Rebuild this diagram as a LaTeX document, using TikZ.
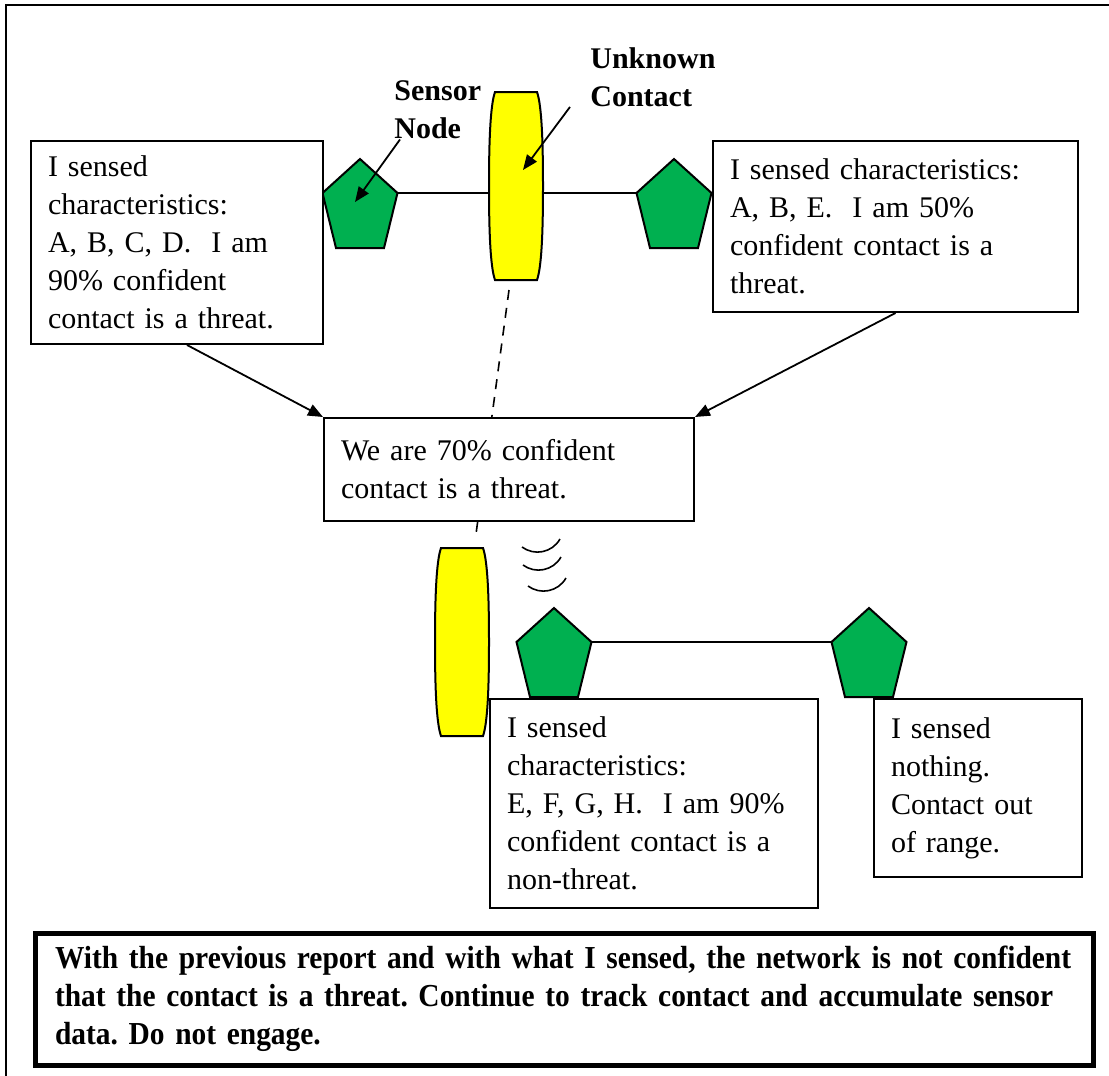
\documentclass[tikz,border=0pt]{standalone}
\usepackage{fontspec}
\setmainfont{Liberation Serif}
\newfontfamily\notefont[FakeStretch=0.92]{Liberation Serif}
\usetikzlibrary{arrows.meta}
\definecolor{sensorgreen}{RGB}{0,176,80}
\definecolor{contactyellow}{RGB}{255,255,0}
\tikzset{
  report/.style={draw, fill=white, line width=1pt, anchor=north west, align=left,
    inner xsep=8.5pt, inner ysep=0pt, font=\fontsize{15}{19}\selectfont},
  callout/.style={anchor=west, align=left, inner sep=0pt,
    font=\fontsize{15}{19}\selectfont\bfseries},
  pointer/.style={-{Triangle[length=7.5pt,width=6pt]}, line width=0.9pt},
  sensor/.pic={
    \draw[fill=sensorgreen, line width=1pt] (0,-34) -- (37.5,0) -- (24,55)
      -- (-24,55) -- (-37.5,0) -- cycle;},
  contact/.pic={
    \draw[fill=contactyellow, line width=1pt] (-21,-94) -- (21,-94)
      .. controls (26,-80) and (27,-40) .. (27,0)
      .. controls (27,40) and (26,80) .. (21,94) -- (-21,94)
      .. controls (-26,80) and (-27,40) .. (-27,0)
      .. controls (-27,-40) and (-26,-80) .. (-21,-94) -- cycle;}
}
\begin{document}
\begin{tikzpicture}[x=0.5pt,y=-0.5pt]
  \useasboundingbox (0,0) rectangle (1109,1076);
  \draw[line width=0.75pt] (6,1076) -- (6,5) -- (1109,5);

  % sensors and contacts
  \coordinate (sA) at (360,193);
  \coordinate (sB) at (674,193);
  \coordinate (sC) at (554,642);
  \coordinate (sD) at (869,642);
  \coordinate (cA) at (516,186);
  \coordinate (cB) at (462,642);
  \coordinate (cAfoot) at (509,290);
  \coordinate (cBhead) at (476,534);
  \coordinate (tipSensor) at (355,202);
  \coordinate (tipContact) at (523,170);

  \draw[line width=1pt] (sA) -- (sB);
  \draw[line width=1pt] (sC) -- (sD);
  \draw[line width=0.8pt, dash pattern=on 5pt off 4pt] (cAfoot) -- (cBhead);

  \pic at (sA) {sensor};
  \pic at (sB) {sensor};
  \pic at (sC) {sensor};
  \pic at (sD) {sensor};
  \pic at (cA) {contact};
  \pic at (cB) {contact};

  % reports
  \node[report, text width=129pt, minimum height=101.5pt] (boxL) at (30,140)
    {I sensed\\characteristics:\\A, B, C, D.\ \ I am\\90\% confident\\contact is a threat.};
  \node[report, text width=165.5pt, minimum height=85.5pt] (boxR) at (712,140)
    {I sensed characteristics:\\A, B, E.\ \ I am 50\%\\confident contact is a\\threat.};
  \node[report, text width=168pt, minimum height=51.5pt] (boxMid) at (323,417)
    {We are 70\% confident\\contact is a threat.};
  \node[report, text width=147pt, minimum height=104.5pt] (boxE) at (489,698)
    {I sensed\\characteristics:\\E, F, G, H.\ \ I am 90\%\\confident contact is a\\non-threat.};
  \node[report, text width=87pt, minimum height=89pt] (boxN) at (873,698)
    {I sensed\\nothing.\\Contact out\\of range.};

  \draw[pointer] ([xshift=5pt]boxL.south) -- (boxMid.north west);
  \draw[pointer] (boxR.south) -- (boxMid.north east);

  % labels
  \node[callout] (lblSensor) at (394,110) {Sensor\\Node};
  \node[callout] (lblContact) at (590,77) {Unknown\\Contact};
  \draw[pointer] ([xshift=3pt]lblSensor.south west) -- (tipSensor);
  \draw[pointer] ([xshift=-10pt]lblContact.south west) -- (tipContact);

  % pings
  \foreach \dx/\dy in {0/0, 1/18, 6/39}
    \draw[line width=0.8pt] (522+\dx,547+\dy) .. controls (534+\dx,556+\dy)
      and (552+\dx,553+\dy) .. (560+\dx,539+\dy);

  \node[draw, line width=2.5pt, anchor=north west, align=left, inner xsep=10pt,
    inner ysep=0pt, text width=509pt, minimum height=66pt,
    font=\notefont\bfseries\fontsize{16}{19}\selectfont\frenchspacing] (note) at (32.5,930.5)
    {With the previous report and with what I sensed, the network is not confident\\
     that the contact is a threat. Continue to track contact and accumulate sensor\\
     data. Do not engage.};
\end{tikzpicture}
\end{document}
